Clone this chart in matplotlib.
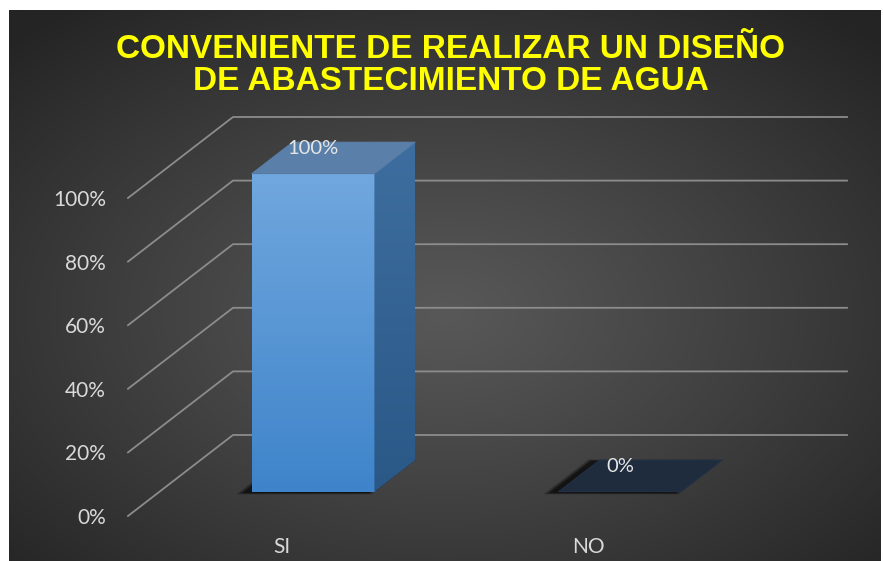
import numpy as np
import matplotlib.pyplot as plt
from matplotlib.patches import Polygon
from matplotlib.lines import Line2D
from matplotlib.transforms import ScaledTranslation, IdentityTransform
from matplotlib.colors import to_rgb

categories = ["SI", "NO"]
values = [1.00, 0.00]
value_labels = ["100%", "0%"]
y_ticks = [0.0, 0.2, 0.4, 0.6, 0.8, 1.0]
y_tick_labels = ["0%", "20%", "40%", "60%", "80%", "100%"]
title_lines = ["CONVENIENTE DE REALIZAR UN DISEÑO", "DE ABASTECIMIENTO DE AGUA"]

W, H, DPI = 883, 561, 100
DEPTH = np.array([105.0, 81.0])  # floor depth in pixels (right, up)
BAR_D0, BAR_D1 = 0.30, 0.69
BAR_W = 0.40

fig = plt.figure(figsize=(W / DPI, H / DPI), dpi=DPI, facecolor="white")

# ---------------- background panel ---------------- #
bg = fig.add_axes([9 / W, 0, 872 / W, 551 / H], zorder=0)
yy, xx = np.mgrid[0:1:300j, 0:1:450j]
r = np.sqrt(((xx - 0.5) * 2) ** 2 + ((yy - 0.55) * 2) ** 2) / np.sqrt(2)
shade = 0x58 / 255 - (0x58 - 0x24) / 255 * np.clip(r, 0, 1) ** 1.1
bg.imshow(np.dstack([shade] * 3), extent=[0, 1, 0, 1], aspect="auto")
bg.axis("off")

# ---------------- main axes (front plane) ---------------- #
ax = fig.add_axes([128 / W, (H - 516) / H, (742 - 128) / W, (516 - 198) / H],
                  zorder=1)
ax.set_autoscale_on(False)
ax.set_xlim(-0.5, len(categories) - 0.5)
ax.set_ylim(0, 1)
ax.patch.set_alpha(0)
for s in ax.spines.values():
    s.set_visible(False)


def shift(d):
    return ScaledTranslation(DEPTH[0] * d / DPI, DEPTH[1] * d / DPI,
                             fig.dpi_scale_trans)


def proj(x, y, d):
    return ax.transData.transform((x, y)) + DEPTH * d


def vgrad(c_top, c_bot, n=100):
    t = np.linspace(0, 1, n)[:, None, None]
    a, b = np.array(to_rgb(c_top)), np.array(to_rgb(c_bot))
    return a[None, None, :] * (1 - t) + b[None, None, :] * t


ident = IdentityTransform()

# ---------------- gridlines ---------------- #
x_lo, x_hi = -0.5, len(categories) - 0.5
for t in y_ticks:
    p0, p1, p2 = proj(x_lo, t, 0), proj(x_lo, t, 1), proj(x_hi, t, 1)
    ax.add_line(Line2D([p0[0], p1[0], p2[0]], [p0[1], p1[1], p2[1]],
                       transform=ident, color="#8C8C8C", lw=1.3,
                       clip_on=False, zorder=1))

# ---------------- bars ---------------- #
for i, v in enumerate(values):
    xl, xr = i - BAR_W / 2, i + BAR_W / 2

    # soft shadow on the floor
    base = np.array([proj(xl, 0, BAR_D0), proj(xr, 0, BAR_D0),
                     proj(xr, 0, BAR_D1), proj(xl, 0, BAR_D1)])
    cen = base.mean(axis=0)
    for k, a in zip([1.10, 1.06, 1.03], [0.25, 0.3, 0.4]):
        pts = cen + (base - cen) * k + np.array([-7, -1])
        ax.add_patch(Polygon(pts, closed=True, transform=ident, color="black",
                             alpha=a, lw=0, clip_on=False, zorder=2))

    if v > 0:
        # front face
        ax.imshow(vgrad("#70A7DE", "#3F84CA"), extent=[xl, xr, 0, v],
                  transform=ax.transData + shift(BAR_D0), aspect="auto",
                  zorder=3, clip_on=False)

        # side face
        side_pts = np.array([proj(xr, 0, BAR_D0), proj(xr, 0, BAR_D1),
                             proj(xr, v, BAR_D1), proj(xr, v, BAR_D0)])
        side = Polygon(side_pts, closed=True, transform=ident, fc="none", lw=0)
        ext = [side_pts[:, 0].min(), side_pts[:, 0].max(),
               side_pts[:, 1].min(), side_pts[:, 1].max()]
        sim = ax.imshow(vgrad("#3E6E9F", "#2A5887"), extent=ext,
                        transform=ident, aspect="auto", zorder=3)
        sim.set_clip_path(side)
        sim.set_clip_box(fig.bbox)

    # top face
    top_color = "#5A80A9" if v > 0 else "#1E2C3E"
    ax.add_patch(Polygon([proj(xl, v, BAR_D0), proj(xr, v, BAR_D0),
                          proj(xr, v, BAR_D1), proj(xl, v, BAR_D1)],
                         closed=True, transform=ident, fc=top_color,
                         ec="#26344a" if v == 0 else top_color, lw=0.6,
                         clip_on=False, zorder=4))

    # data label
    ax.annotate(value_labels[i], xy=(i, v), xycoords=ax.transData + shift(BAR_D0),
                xytext=(0, 25), textcoords="offset pixels", ha="center",
                va="center", color="#E6E6E6", fontsize=14.5, family="Lato",
                zorder=5, annotation_clip=False)

ax.set_xlim(-0.5, len(categories) - 0.5)
ax.set_ylim(0, 1)

# ---------------- ticks ---------------- #
ax.set_yticks(y_ticks, y_tick_labels)
ax.set_xticks(range(len(categories)), categories)
ax.tick_params(axis="y", length=0, pad=16, labelsize=15, labelcolor="#D9D9D9")
ax.tick_params(axis="x", length=0, pad=15, labelsize=15, labelcolor="#D9D9D9")
for lab in ax.get_xticklabels() + ax.get_yticklabels():
    lab.set_family("Lato")

# ---------------- title ---------------- #
for k, line in enumerate(title_lines):
    fig.text(451 / W, 1 - (49 + 32 * k) / H, line, ha="center", va="center",
             color="#FFFF00", fontsize=24, fontweight="bold",
             family="Liberation Sans")

fig.savefig("out.png", dpi=DPI, facecolor="white")
